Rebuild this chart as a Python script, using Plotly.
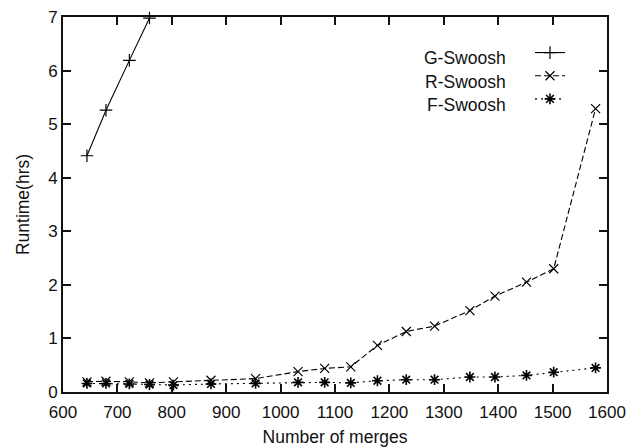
import plotly.graph_objects as go

# Data
g_merges = [644, 679, 722, 759]
g_runtime = [4.41, 5.26, 6.19, 6.98]

merges = [644, 679, 722, 759, 803, 872, 954, 1032, 1081, 1129, 1178, 1231, 1283, 1348, 1394, 1452, 1502, 1579]
r_runtime = [0.19, 0.20, 0.19, 0.17, 0.19, 0.22, 0.25, 0.38, 0.44, 0.47, 0.87, 1.13, 1.23, 1.52, 1.79, 2.05, 2.30, 5.29]
f_runtime = [0.16, 0.16, 0.15, 0.14, 0.13, 0.15, 0.16, 0.18, 0.18, 0.17, 0.21, 0.23, 0.23, 0.28, 0.28, 0.31, 0.37, 0.45]

series_names = ["G-Swoosh", "R-Swoosh", "F-Swoosh"]
x_ticks = list(range(600, 1601, 100))
y_ticks = list(range(0, 8))

FONT = "Liberation Sans, Arial, Helvetica, sans-serif"

fig = go.Figure()
fig.add_trace(go.Scatter(
    x=g_merges, y=g_runtime, mode="lines+markers", name="",
    line=dict(color="black", width=1.1),
    marker=dict(symbol="cross-thin-open", size=9, line=dict(color="black", width=1.2)),
    cliponaxis=False,
))
fig.add_trace(go.Scatter(
    x=merges, y=r_runtime, mode="lines+markers", name="",
    line=dict(color="black", width=1.1, dash="6px,3px"),
    marker=dict(symbol="x-thin-open", size=9, line=dict(color="black", width=1.2)),
))
fig.add_trace(go.Scatter(
    x=merges, y=f_runtime, mode="lines+markers", name="",
    line=dict(color="black", width=1.1, dash="2px,4px"),
    marker=dict(symbol="asterisk-open", size=9, line=dict(color="black", width=1.6)),
))

ML, MR, MT, MB = 63, 19, 17, 55
W, H = 626, 447
PW, PH = W - ML - MR, H - MT - MB

def px_to_paper_x(px):
    return (px - ML) / PW

def px_to_paper_y(py):
    return (H - MB - py) / PH

row_y = [58, 82, 105]
for name, ry in zip(series_names, row_y):
    fig.add_annotation(
        x=px_to_paper_x(508), y=px_to_paper_y(ry), xref="paper", yref="paper",
        text=name, showarrow=False, xanchor="right", yanchor="middle",
        font=dict(family=FONT, size=17.5, color="#111"),
    )

axis_common = dict(
    showgrid=False, zeroline=False, showline=True, linecolor="#111", linewidth=1.8,
    mirror="allticks", ticks="inside", ticklen=8, tickwidth=1.5, tickcolor="#111",
    tickfont=dict(family=FONT, size=17, color="#111"), automargin=False,
)

fig.update_layout(
    width=W, height=H,
    margin=dict(l=ML, r=MR, t=MT, b=MB),
    paper_bgcolor="white", plot_bgcolor="white",
    showlegend=True,
    legend=dict(
        x=px_to_paper_x(530), y=px_to_paper_y(36), xanchor="left", yanchor="top",
        bgcolor="rgba(0,0,0,0)", borderwidth=0,
        font=dict(family=FONT, size=15.5), tracegroupgap=0, itemwidth=30,
    ),
    xaxis=dict(
        range=[600, 1600], tickvals=x_ticks, ticktext=[str(v) for v in x_ticks],
        ticklabelstandoff=4,
        title=dict(text="Number of merges", font=dict(family=FONT, size=17.5, color="#111"), standoff=10),
        **axis_common,
    ),
    yaxis=dict(
        range=[0, 7], tickvals=y_ticks, ticktext=[str(v) for v in y_ticks],
        title=dict(text="Runtime(hrs)", font=dict(family=FONT, size=17.5, color="#111"), standoff=14),
        **axis_common,
    ),
)

fig.write_html("out.html")
